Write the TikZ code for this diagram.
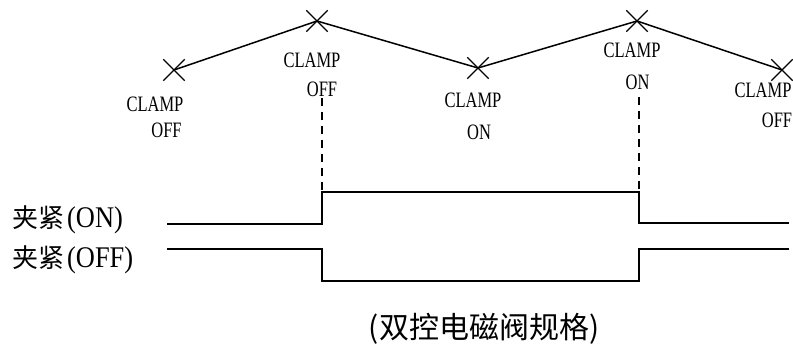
\documentclass[tikz,border=0pt]{standalone}
\usepackage{fontspec}
\usepackage{graphicx}
\usetikzlibrary{shapes.misc}
\setmainfont{Liberation Serif}
\newfontfamily\cjk{Noto Sans CJK SC}
\newcommand\lat[1]{\scalebox{0.75}[1]{#1}}
\newcommand\latw[1]{\scalebox{0.88}[1]{#1}}
\begin{document}
\begin{tikzpicture}[x=1pt,y=-1pt,
  sig/.style={line width=1.6pt, line join=miter},
  guide/.style={line width=1.6pt, dash pattern=on 8pt off 6pt},
  mk/.style={draw, cross out, minimum size=20pt, inner sep=0pt, line width=1.3pt},
  zig/.style={line width=1.5pt},
  lbl/.style={anchor=base, inner sep=0pt, font=\fontsize{22}{22}\selectfont},
  sname/.style={anchor=base west, inner sep=0pt},
  captext/.style={anchor=base, inner sep=0pt, font=\cjk\fontsize{30}{30}\selectfont}
 ]
\useasboundingbox (0,0) rectangle (793,344);
% markers
\node[mk] (c1) at (174,70) {};
\node[mk] (c2) at (317,21) {};
\node[mk] (c3) at (478,68) {};
\node[mk] (c4) at (637,21) {};
\node[mk] (c5) at (782,70) {};
\draw[zig] (c1.center) -- (c2.center) -- (c3.center) -- (c4.center) -- (c5.center);
% marker labels
\node[lbl] (l1a) at (155,112) {\lat{CLAMP}};
\node[lbl] (l1b) at (166.5,138) {\lat{OFF}};
\node[lbl] (l2a) at (312,68) {\lat{CLAMP}};
\node[lbl] (l2b) at (322,97) {\lat{OFF}};
\node[lbl] (l3a) at (473,108) {\lat{CLAMP}};
\node[lbl] (l3b) at (479,140) {\lat{ON}};
\node[lbl] (l4a) at (632,58) {\lat{CLAMP}};
\node[lbl] (l4b) at (637.5,90) {\lat{ON}};
\node[lbl] (l5a) at (763,98) {\lat{CLAMP}};
\node[lbl] (l5b) at (777,128) {\lat{OFF}};
% signal coordinates
\coordinate (t1) at (322,192);
\coordinate (t2) at (639,192);
\coordinate (d1) at (322,98);
\coordinate (d2) at (639,97);
\coordinate (onL) at (167,224);
\coordinate (onR) at (789,223);
\coordinate (offL) at (167,249);
\coordinate (offR) at (789,249);
\coordinate (b1) at (322,281);
\coordinate (b2) at (639,281);
\draw[guide] (d1) -- (t1);
\draw[guide] (d2) -- (t2);
\draw[sig] (onL) -| (t1) -- (t2) |- (onR);
\draw[sig] (offL) -| (b1) -- (b2) |- (offR);
% signal names
\node[sname] (son) at (12,228) {{\cjk\fontsize{26}{26}\selectfont 夹紧}\hspace{3pt}{\fontsize{30}{30}\selectfont\latw{(ON)}}};
\node[sname] (soff) at (12,268) {{\cjk\fontsize{26}{26}\selectfont 夹紧}\hspace{3pt}{\fontsize{30}{30}\selectfont\latw{(OFF)}}};
% caption
\node[captext] (caption) at (484,339) {(双控电磁阀规格)};
\end{tikzpicture}
\end{document}
